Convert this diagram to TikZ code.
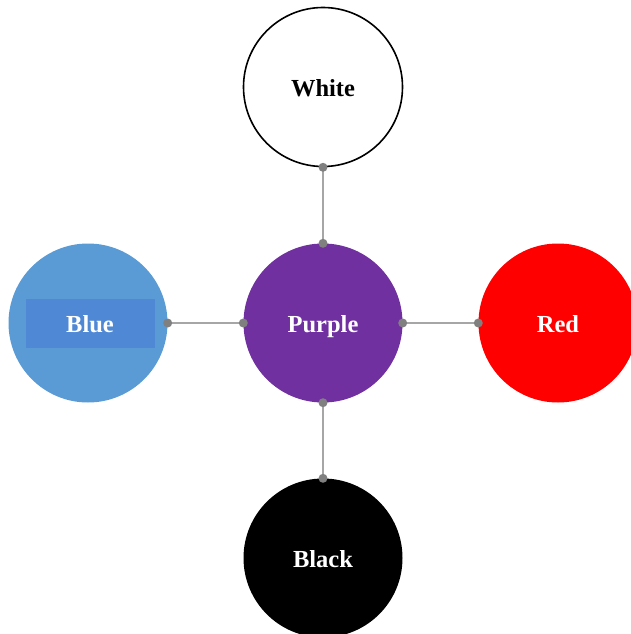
\documentclass[tikz,border=0pt]{standalone}
\usepackage{fontspec}
\setmainfont{Liberation Serif}
\usetikzlibrary{positioning}

\definecolor{cpurple}{HTML}{7030A0}
\definecolor{cblue}{HTML}{5B9BD5}
\definecolor{cbluebox}{HTML}{4F88D5}
\definecolor{linkgray}{HTML}{A6A6A6}
\definecolor{dotgray}{HTML}{808080}

\begin{document}
\begin{tikzpicture}[x=1pt,y=-1pt]
\tikzstyle{col} = [shape=circle,minimum size=159pt,inner sep=0pt,text=white,text height=18pt,text depth=0pt,font=\fontsize{24.5}{28}\selectfont\bfseries]
\tikzstyle{lbl} = [shape=rectangle,inner sep=0pt,text=white,text height=18pt,text depth=0pt,font=\fontsize{24.5}{28}\selectfont\bfseries]
\tikzstyle{link} = [draw=linkgray,line width=1.6pt]
\tikzstyle{dot} = [fill=dotgray]
\useasboundingbox (0,0) rectangle (631,634);
\node[col,fill=cpurple] (purple) at (323,323) {Purple};
\node[col,fill=white,draw=black,line width=1.6pt,text=black] (white) at (323,87) {White};
\node[col,fill=cblue] (blue) at (88,323) {};
\node[lbl,fill=cbluebox,minimum width=129pt,minimum height=49pt] (bluebox) at (90,323) {Blue};
\node[col,fill=red] (red) at (558,323) {Red};
\node[col,fill=black] (black) at (323,558) {Black};
\draw[link] (purple) -- (white);
\draw[link] (purple) -- (blue);
\draw[link] (purple) -- (red);
\draw[link] (purple) -- (black);
\foreach \a in {north,west,east,south} {
  \fill[dot] (purple.\a) circle (4.5pt);
}
\fill[dot] (white.south) circle (4.5pt);
\fill[dot] (blue.east) circle (4.5pt);
\fill[dot] (red.west) circle (4.5pt);
\fill[dot] (black.north) circle (4.5pt);
\end{tikzpicture}
\end{document}
